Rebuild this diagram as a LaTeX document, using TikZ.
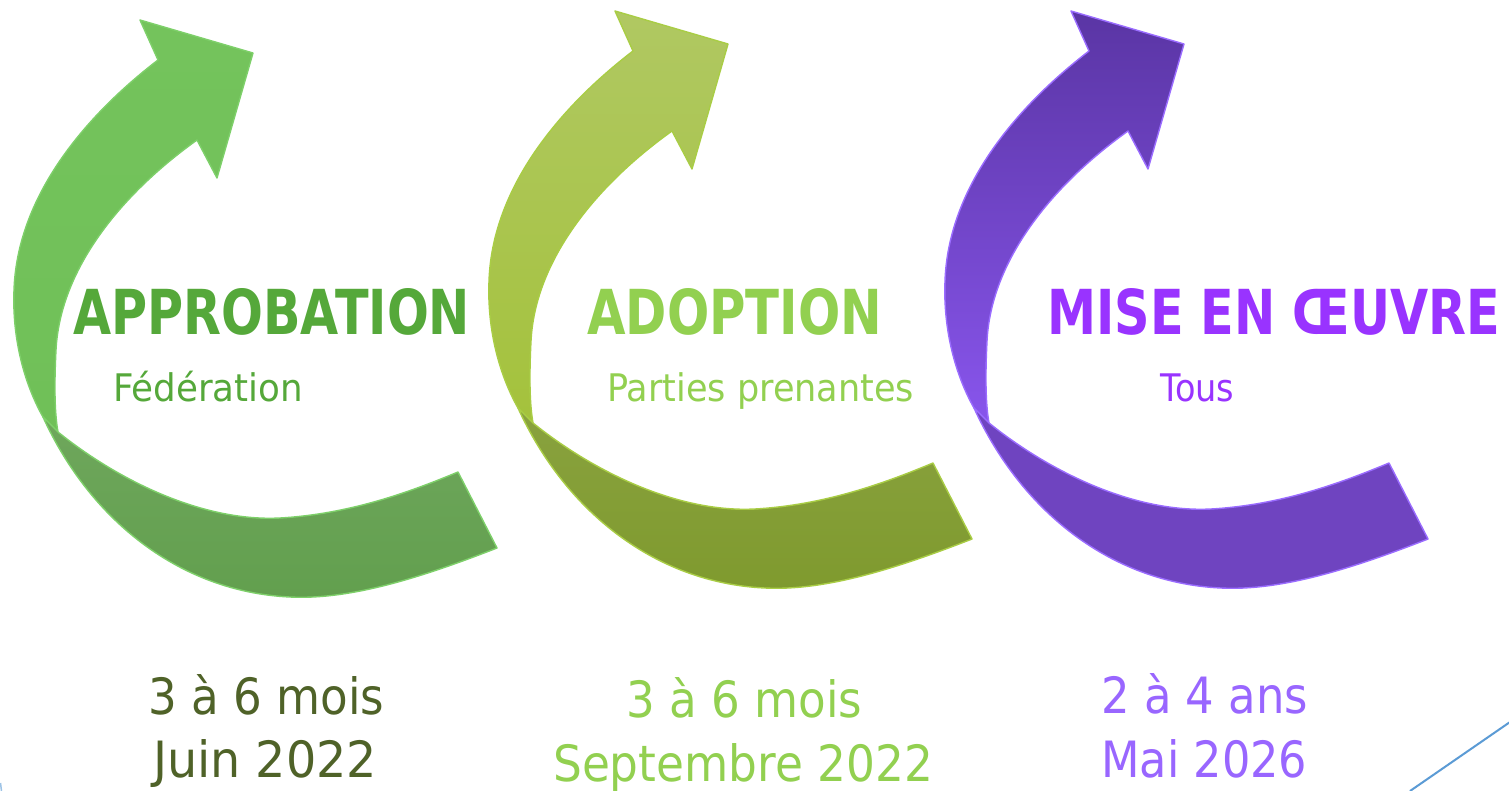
\documentclass[tikz,border=0pt]{standalone}
\usepackage{fontspec}
\usepackage{graphicx}
\setmainfont{DejaVu Sans}
\definecolor{gA}{HTML}{74C35C}
\definecolor{gAb}{HTML}{70C058}
\definecolor{gAd}{HTML}{629F4E}
\definecolor{gAo}{HTML}{7ED06A}
\definecolor{gB}{HTML}{B0C862}
\definecolor{gBb}{HTML}{A4C23C}
\definecolor{gBd}{HTML}{7F9A2E}
\definecolor{gBo}{HTML}{A9CD45}
\definecolor{pC}{HTML}{5A35A4}
\definecolor{pCb}{HTML}{8855EC}
\definecolor{pCd}{HTML}{6F44C0}
\definecolor{pCo}{HTML}{9A6CFF}
\definecolor{tApp}{HTML}{55A83A}
\definecolor{tAdo}{HTML}{92D050}
\definecolor{tMis}{HTML}{9933FF}
\definecolor{tOl}{HTML}{4F6228}
\definecolor{tLav}{HTML}{9966FF}
\definecolor{lineblue}{HTML}{5B9BD5}
\newsavebox\fitbox
\newlength\fitlen
\newcommand\fitw[2]{\sbox\fitbox{#2}\setlength\fitlen{\wd\fitbox}\pgfmathsetmacro\fitr{#1/\fitlen}\scalebox{\fitr}[1]{\usebox\fitbox}}
\newcommand\ribbon[7]{%
\begin{scope}[shift={#1}]
 \shade[top color=#2, bottom color=#3, draw=#5, ribbonline]
  (43,417) .. controls (25,385) and (12,340) .. (14,290)
  .. controls (17,200) and (80,120) .. (158,60)
  -- (140,20) -- (253,53) -- (217,178) -- (197,140)
  .. controls (120,195) and (60,270) .. (56,350)
  .. controls (54,390) and (55,415) .. (58,432) -- cycle;
 \shade[top color=#6, bottom color=#7, draw=#5, ribbonline]
  (43,417) -- (58,432)
  .. controls (115,478) and (200,522) .. (280,518)
  .. controls (350,514) and (410,492) .. (458,472)
  -- (497,548)
  .. controls (420,578) and (350,600) .. (290,597)
  .. controls (180,592) and (90,520) .. (43,417) -- cycle;
\end{scope}}
\tikzset{
 ribbonline/.style={line width=1.4pt, line join=round},
 head/.style={anchor=base west, inner sep=0pt, font=\fontsize{62}{64}\selectfont\bfseries},
 sub/.style={anchor=base west, inner sep=0pt, font=\fontsize{38}{40}\selectfont},
 dur/.style={anchor=base west, inner sep=0pt, font=\fontsize{50}{52}\selectfont},
}
\begin{document}
\begin{tikzpicture}[x=1pt,y=-1pt]
\useasboundingbox (0,0) rectangle (1509,790);
\fill[white] (0,0) rectangle (1509,790);
% arrows
\ribbon{(0,0)}{gA}{gAb}{gAd}{gAo}{gAd!92!white}{gAd}
\ribbon{(475,-9)}{gB}{gBb}{gBd}{gBo}{gBd!92!white}{gBd}
\ribbon{(931,-9)}{pC}{pCb}{pCd}{pCo}{pCd}{pCd}
% headings
\node[head, text=tApp] (h1) at (73,334) {\fitw{397}{APPROBATION}};
\node[head, text=tAdo] (h2) at (587,334) {\fitw{295}{ADOPTION}};
\node[head, text=tMis] (h3) at (1047,334) {\fitw{453}{MISE EN ŒUVRE}};
% sub labels
\node[sub, text=tApp] (s1) at (113,401) {\fitw{190}{Fédération}};
\node[sub, text=tAdo] (s2) at (607,401) {\fitw{307}{Parties prenantes}};
\node[sub, text=tMis] (s3) at (1160,401) {\fitw{74}{Tous}};
% durations
\node[dur, text=tOl] (d1a) at (148,714) {\fitw{236}{3 à 6 mois}};
\node[dur, text=tOl] (d1b) at (153,777) {\fitw{224}{Juin 2022}};
\node[dur, text=tAdo] (d2a) at (626,717) {\fitw{236}{3 à 6 mois}};
\node[dur, text=tAdo] (d2b) at (553,781) {\fitw{380}{Septembre 2022}};
\node[dur, text=tLav] (d3a) at (1101,713) {\fitw{207}{2 à 4 ans}};
\node[dur, text=tLav] (d3b) at (1101,777) {\fitw{206}{Mai 2026}};
% decorative lines
\coordinate (la) at (1410,791);
\coordinate (lb) at (1510,722);
\draw[lineblue, line width=2pt] (la) -- (lb);
\coordinate (lc) at (0.5,783);
\coordinate (ld) at (1.5,791);
\draw[lineblue!60, line width=1.5pt] (lc) -- (ld);
\end{tikzpicture}
\end{document}
